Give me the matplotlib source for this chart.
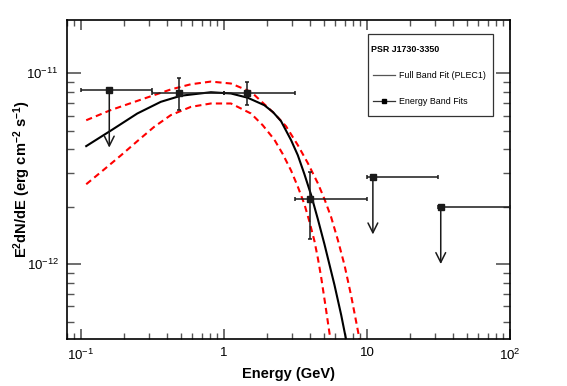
import matplotlib
matplotlib.use("Agg")
import matplotlib.pyplot as plt
import numpy as np
from matplotlib.ticker import FixedLocator, FixedFormatter, LogLocator, NullFormatter
from matplotlib.lines import Line2D
from matplotlib.patches import Rectangle

plt.rcParams['font.family'] = ['Liberation Sans', 'DejaVu Sans']
plt.rcParams['mathtext.fontset'] = 'custom'
plt.rcParams['mathtext.rm'] = 'Liberation Sans'
plt.rcParams['mathtext.it'] = 'Liberation Sans:italic'
plt.rcParams['mathtext.bf'] = 'Liberation Sans:bold'

# ---- data ----
# Full band PLEC1 fit
fit_E = [0.109, 0.161, 0.248, 0.362, 0.50, 0.811, 1.12, 1.466, 1.916, 2.205, 2.508, 2.948,
         3.285, 3.653, 4.072, 4.536, 5.046, 5.929, 6.605, 7.158, 7.51]
fit_F = [4.15e-12, 4.99e-12, 6.15e-12, 7.08e-12, 7.62e-12, 7.95e-12, 7.83e-12, 7.44e-12,
         6.80e-12, 6.25e-12, 5.61e-12, 4.46e-12, 3.72e-12, 2.96e-12, 2.30e-12, 1.72e-12,
         1.27e-12, 7.77e-13, 5.41e-13, 4.0e-13, 3.46e-13]
# Upper uncertainty band
up_E = [0.109, 0.161, 0.248, 0.425, 0.587, 0.811, 1.12, 1.55, 2.251, 2.72, 3.285, 3.860,
        4.536, 5.046, 5.621, 6.263, 6.966, 7.762, 8.65, 8.98]
up_F = [5.67e-12, 6.40e-12, 7.16e-12, 8.22e-12, 8.75e-12, 9.04e-12, 8.83e-12, 7.98e-12,
        6.15e-12, 5.27e-12, 4.20e-12, 3.38e-12, 2.65e-12, 2.19e-12, 1.76e-12, 1.335e-12,
        9.88e-13, 6.80e-13, 4.46e-13, 3.86e-13]
# Lower uncertainty band
lo_E = [0.109, 0.1449, 0.1897, 0.2485, 0.3248, 0.4251, 0.587, 0.811, 1.12, 1.546, 1.867,
        2.251, 2.579, 2.948, 3.285, 3.653, 3.961, 4.295, 4.536, 4.783, 5.12, 5.47, 5.62]
lo_F = [2.62e-12, 3.125e-12, 3.70e-12, 4.41e-12, 5.23e-12, 6.03e-12, 6.66e-12, 6.94e-12,
        6.94e-12, 6.15e-12, 5.34e-12, 4.49e-12, 3.77e-12, 3.09e-12, 2.545e-12, 2.06e-12,
        1.67e-12, 1.32e-12, 1.075e-12, 8.55e-13, 6.10e-13, 4.35e-13, 3.77e-13]

# Energy band points
band_E = [0.158, 0.486, 1.44, 4.0, 11.0, 32.8]
band_lo = [0.1, 0.316, 1.0, 3.16, 10.0, 31.6]
band_hi = [0.316, 1.0, 3.16, 10.0, 31.6, 100.0]
band_F = [8.15e-12, 7.92e-12, 7.88e-12, 2.20e-12, 2.86e-12, 2.0e-12]
band_Fhi = [None, 9.49e-12, 9.01e-12, 3.02e-12, None, None]
band_Flo = [None, 6.40e-12, 6.80e-12, 1.35e-12, None, None]
band_ul = [True, False, False, False, True, True]

x_ticks = [0.1, 1, 10, 100]
x_ticklabels = ['$10^{-1}$', '1', '10', '$10^{2}$']
y_ticks = [1e-12, 1e-11]
y_ticklabels = ['$10^{-12}$', '$10^{-11}$']

fig = plt.figure(figsize=(5.67, 3.86), dpi=100)
ax = fig.add_axes([67/567, 1-339/386, (510-67)/567, (339-20)/386])
ax.set_xscale('log')
ax.set_yscale('log')
ax.set_xlim(0.08, 100)
ax.set_ylim(4.05e-13, 1.9e-11)

# curves
ax.plot(fit_E, fit_F, color='black', lw=1.5, zorder=3)
ax.plot(up_E, up_F, color='red', lw=1.5, dashes=(3, 2), zorder=2)
ax.plot(lo_E, lo_F, color='red', lw=1.5, dashes=(3, 2), zorder=2)

ebar_col = '#1a1a1a'
for E, lo, hi, F, Fh, Fl, ul in zip(band_E, band_lo, band_hi, band_F, band_Fhi, band_Flo, band_ul):
    xerr = [[E - lo], [hi - E]]
    if ul:
        ax.errorbar([E], [F], xerr=xerr, fmt='s', color=ebar_col, ms=4,
                    elinewidth=1.1, capsize=1.5, capthick=1.1, zorder=4)
        ax.annotate('', xy=(E, F * 0.5), xytext=(E, F),
                    arrowprops=dict(arrowstyle='->,head_length=0.7,head_width=0.35',
                                    color=ebar_col, lw=1.1, shrinkA=0, shrinkB=0),
                    zorder=4)
    else:
        yerr = [[F - Fl], [Fh - F]]
        ax.errorbar([E], [F], xerr=xerr, yerr=yerr, fmt='s', color=ebar_col, ms=4,
                    elinewidth=1.1, capsize=1.5, capthick=1.1, zorder=4)

# ticks
ax.xaxis.set_major_locator(FixedLocator(x_ticks))
ax.xaxis.set_major_formatter(FixedFormatter(x_ticklabels))
ax.xaxis.set_minor_locator(LogLocator(base=10, subs=np.arange(2, 10)))
ax.xaxis.set_minor_formatter(NullFormatter())
ax.yaxis.set_major_locator(FixedLocator(y_ticks))
ax.yaxis.set_major_formatter(FixedFormatter(y_ticklabels))
ax.yaxis.set_minor_locator(LogLocator(base=10, subs=np.arange(2, 10)))
ax.yaxis.set_minor_formatter(NullFormatter())

tc = '#555555'
ax.tick_params(which='both', direction='in', top=True, right=True, color=tc,
               labelsize=9.5, pad=6)
ax.tick_params(axis='x', which='major', length=7, width=1.2)
ax.tick_params(axis='x', which='minor', length=4, width=1.0)
ax.tick_params(axis='y', which='major', length=10, width=1.2)
ax.tick_params(axis='y', which='minor', length=5, width=1.0)
for s in ax.spines.values():
    s.set_linewidth(1.2)

ax.set_xlabel('Energy (GeV)', fontsize=10.5, fontweight='bold', labelpad=3)
ax.set_ylabel(r'E$^{\mathbf{2}}$dN/dE (erg cm$^{\mathbf{-2}}$ s$^{\mathbf{-1}}$)',
              fontsize=10.5, fontweight='bold')
ax.yaxis.set_label_coords(-0.077, 0.5)

# legend box (manual)
def fx(px):
    return (px-67)/443
def fy(py):
    return 1-(py-20)/319
ax.add_patch(Rectangle((fx(368), fy(116)), fx(493)-fx(368), fy(34)-fy(116),
                       transform=ax.transAxes, facecolor='white', edgecolor='#333333',
                       lw=0.9, zorder=6))
ax.text(fx(371), fy(49), 'PSR J1730-3350', transform=ax.transAxes, fontsize=6.4,
        fontweight='bold', va='center', ha='left', zorder=7)
ax.add_line(Line2D([fx(373), fx(395)], [fy(75), fy(75)], transform=ax.transAxes,
                   color='#555555', lw=0.9, zorder=7))
ax.text(fx(399), fy(75), 'Full Band Fit (PLEC1)', transform=ax.transAxes, fontsize=6.4,
        va='center', ha='left', zorder=7)
ax.add_line(Line2D([fx(373), fx(395)], [fy(101), fy(101)], transform=ax.transAxes,
                   color='#333333', lw=0.9, zorder=7))
ax.add_line(Line2D([fx(384)], [fy(101)], transform=ax.transAxes, marker='s', ms=3.5,
                   color='black', lw=0, zorder=8))
ax.text(fx(399), fy(101), 'Energy Band Fits', transform=ax.transAxes, fontsize=6.4,
        va='center', ha='left', zorder=7)

fig.savefig('out.png', dpi=100)
